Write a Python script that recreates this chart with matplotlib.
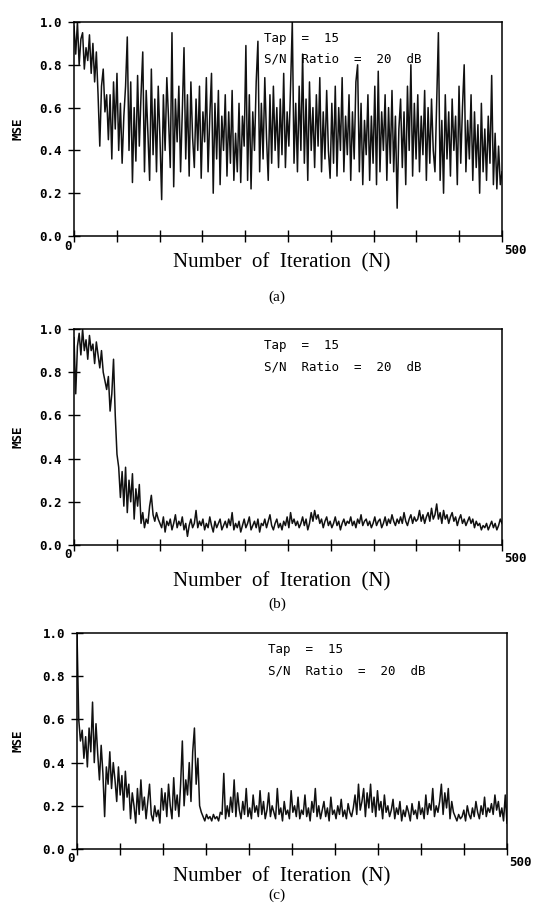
import numpy as np
import matplotlib
matplotlib.use("Agg")
from matplotlib import pyplot as plt

# MSE learning curves (500 iterations, every 2nd one)
mse_a = [0.98, 0.85, 1.00, 0.80, 0.92, 0.95, 0.78, 0.88, 0.82, 0.94,
         0.76, 0.90, 0.72, 0.86, 0.66, 0.42, 0.70, 0.78, 0.58, 0.66,
         0.45, 0.66, 0.36, 0.72, 0.50, 0.76, 0.40, 0.62, 0.34, 0.56,
         0.70, 0.93, 0.40, 0.72, 0.25, 0.60, 0.35, 0.75, 0.42, 0.66,
         0.86, 0.30, 0.68, 0.48, 0.26, 0.78, 0.38, 0.64, 0.30, 0.70,
         0.46, 0.17, 0.66, 0.40, 0.74, 0.55, 0.32, 0.95, 0.23, 0.64,
         0.44, 0.70, 0.30, 0.58, 0.88, 0.36, 0.66, 0.28, 0.72, 0.46,
         0.32, 0.64, 0.40, 0.70, 0.27, 0.58, 0.44, 0.74, 0.30, 0.56,
         0.76, 0.20, 0.62, 0.36, 0.68, 0.24, 0.56, 0.40, 0.66, 0.28,
         0.58, 0.34, 0.68, 0.26, 0.48, 0.30, 0.62, 0.25, 0.56, 0.42,
         0.89, 0.26, 0.66, 0.22, 0.58, 0.40, 0.72, 0.91, 0.30, 0.62,
         0.36, 0.74, 0.46, 0.26, 0.66, 0.34, 0.70, 0.40, 0.60, 0.32,
         0.64, 0.38, 0.76, 0.32, 0.58, 0.42, 0.70, 1.00, 0.34, 0.62,
         0.30, 0.70, 0.40, 0.85, 0.34, 0.64, 0.26, 0.72, 0.40, 0.60,
         0.32, 0.66, 0.42, 0.74, 0.30, 0.58, 0.36, 0.68, 0.40, 0.27,
         0.62, 0.34, 0.70, 0.28, 0.60, 0.40, 0.74, 0.30, 0.56, 0.38,
         0.66, 0.26, 0.58, 0.36, 0.72, 0.80, 0.30, 0.62, 0.24, 0.54,
         0.38, 0.66, 0.26, 0.56, 0.34, 0.70, 0.24, 0.77, 0.30, 0.58,
         0.40, 0.66, 0.26, 0.60, 0.34, 0.68, 0.30, 0.56, 0.13, 0.50,
         0.64, 0.32, 0.58, 0.24, 0.70, 0.40, 0.80, 0.28, 0.62, 0.36,
         0.66, 0.30, 0.56, 0.38, 0.68, 0.26, 0.60, 0.34, 0.64, 0.40,
         0.30, 0.62, 0.95, 0.26, 0.54, 0.20, 0.66, 0.36, 0.58, 0.28,
         0.64, 0.40, 0.56, 0.24, 0.70, 0.34, 0.60, 0.80, 0.30, 0.54,
         0.36, 0.66, 0.26, 0.58, 0.32, 0.52, 0.20, 0.62, 0.30, 0.50,
         0.26, 0.56, 0.34, 0.75, 0.24, 0.48, 0.22, 0.42, 0.24, 0.30]

mse_b = [0.96, 0.70, 0.92, 0.98, 0.88, 1.00, 0.90, 0.95, 0.86, 0.97,
         0.90, 0.93, 0.84, 0.94, 0.88, 0.82, 0.90, 0.80, 0.76, 0.72,
         0.78, 0.62, 0.70, 0.86, 0.60, 0.42, 0.36, 0.22, 0.34, 0.18,
         0.36, 0.15, 0.30, 0.20, 0.33, 0.12, 0.26, 0.18, 0.28, 0.10,
         0.15, 0.08, 0.12, 0.10, 0.18, 0.23, 0.14, 0.11, 0.15, 0.12,
         0.10, 0.08, 0.13, 0.06, 0.11, 0.09, 0.12, 0.07, 0.10, 0.14,
         0.08, 0.11, 0.09, 0.13, 0.07, 0.10, 0.04, 0.09, 0.12, 0.08,
         0.10, 0.16, 0.08, 0.11, 0.09, 0.12, 0.07, 0.10, 0.08, 0.13,
         0.09, 0.06, 0.11, 0.08, 0.10, 0.12, 0.07, 0.09, 0.11, 0.08,
         0.12, 0.09, 0.15, 0.07, 0.10, 0.08, 0.11, 0.06, 0.09, 0.12,
         0.08, 0.10, 0.13, 0.07, 0.09, 0.11, 0.08, 0.12, 0.06, 0.10,
         0.09, 0.12, 0.08, 0.11, 0.14, 0.09, 0.07, 0.10, 0.12, 0.08,
         0.10, 0.07, 0.11, 0.09, 0.13, 0.08, 0.15, 0.10, 0.12, 0.09,
         0.11, 0.08, 0.10, 0.13, 0.09, 0.12, 0.07, 0.10, 0.15, 0.11,
         0.16, 0.12, 0.14, 0.10, 0.12, 0.08, 0.11, 0.13, 0.09, 0.11,
         0.08, 0.10, 0.13, 0.09, 0.11, 0.07, 0.10, 0.12, 0.09, 0.11,
         0.10, 0.13, 0.09, 0.11, 0.08, 0.12, 0.10, 0.14, 0.09, 0.11,
         0.12, 0.09, 0.11, 0.08, 0.10, 0.13, 0.09, 0.11, 0.12, 0.08,
         0.10, 0.13, 0.09, 0.12, 0.10, 0.14, 0.11, 0.09, 0.12, 0.10,
         0.13, 0.10, 0.15, 0.11, 0.09, 0.12, 0.14, 0.10, 0.13, 0.11,
         0.12, 0.16, 0.11, 0.14, 0.10, 0.13, 0.15, 0.11, 0.17, 0.12,
         0.14, 0.19, 0.12, 0.15, 0.10, 0.16, 0.12, 0.14, 0.10, 0.13,
         0.15, 0.11, 0.13, 0.09, 0.12, 0.14, 0.10, 0.12, 0.09, 0.11,
         0.13, 0.10, 0.12, 0.08, 0.11, 0.09, 0.10, 0.07, 0.09, 0.08,
         0.10, 0.07, 0.09, 0.11, 0.08, 0.10, 0.07, 0.09, 0.12, 0.10]

mse_c = [1.00, 0.60, 0.50, 0.55, 0.42, 0.52, 0.38, 0.56, 0.45, 0.68,
         0.40, 0.58, 0.44, 0.32, 0.48, 0.35, 0.15, 0.38, 0.30, 0.45,
         0.28, 0.40, 0.32, 0.22, 0.38, 0.25, 0.34, 0.18, 0.36, 0.24,
         0.30, 0.14, 0.26, 0.20, 0.12, 0.28, 0.16, 0.32, 0.18, 0.24,
         0.14, 0.22, 0.30, 0.16, 0.13, 0.20, 0.15, 0.18, 0.12, 0.28,
         0.18, 0.26, 0.15, 0.30, 0.20, 0.14, 0.33, 0.18, 0.25, 0.15,
         0.30, 0.50, 0.20, 0.32, 0.25, 0.40, 0.22, 0.45, 0.56, 0.30,
         0.42, 0.20, 0.17, 0.15, 0.13, 0.16, 0.14, 0.15, 0.13, 0.16,
         0.14, 0.15, 0.13, 0.17, 0.16, 0.35, 0.14, 0.20, 0.15, 0.24,
         0.17, 0.32, 0.15, 0.26, 0.18, 0.14, 0.22, 0.16, 0.28, 0.15,
         0.19, 0.14, 0.25, 0.17, 0.20, 0.15, 0.27, 0.16, 0.22, 0.14,
         0.18, 0.26, 0.15, 0.20, 0.17, 0.14, 0.28, 0.16, 0.19, 0.13,
         0.22, 0.16, 0.18, 0.14, 0.27, 0.17, 0.20, 0.15, 0.24, 0.14,
         0.18, 0.16, 0.25, 0.15, 0.19, 0.13, 0.22, 0.17, 0.28, 0.15,
         0.20, 0.14, 0.18, 0.22, 0.15, 0.19, 0.13, 0.24, 0.16, 0.18,
         0.14, 0.20, 0.16, 0.23, 0.15, 0.18, 0.14, 0.21, 0.17, 0.15,
         0.19, 0.25, 0.16, 0.30, 0.18, 0.22, 0.28, 0.15, 0.26, 0.19,
         0.30, 0.17, 0.24, 0.15, 0.27, 0.18, 0.22, 0.14, 0.25, 0.17,
         0.20, 0.15, 0.18, 0.23, 0.14, 0.19, 0.16, 0.22, 0.13, 0.18,
         0.15, 0.20, 0.17, 0.13, 0.21, 0.16, 0.18, 0.14, 0.22, 0.16,
         0.19, 0.14, 0.25, 0.16, 0.21, 0.18, 0.28, 0.15, 0.20, 0.17,
         0.22, 0.30, 0.16, 0.26, 0.19, 0.28, 0.14, 0.22, 0.17, 0.15,
         0.13, 0.16, 0.14, 0.15, 0.18, 0.13, 0.20, 0.16, 0.14, 0.19,
         0.15, 0.22, 0.17, 0.14, 0.20, 0.16, 0.24, 0.15, 0.19, 0.17,
         0.21, 0.16, 0.25, 0.18, 0.22, 0.15, 0.19, 0.13, 0.25, 0.12]

panel_tags = ["(a)", "(b)", "(c)"]
y_ticks = [0.0, 0.2, 0.4, 0.6, 0.8, 1.0]
y_tick_labels = ["0.0", "0.2", "0.4", "0.6", "0.8", "1.0"]
x_ticks = list(range(0, 501, 50))
n_max = 500

W, H = 535, 913
fig = plt.figure(figsize=(W / 100, H / 100), dpi=100)

# axes boxes in pixels: left, top, right, bottom  + y of xlabel and caption
boxes = [(74, 22, 502, 236, 263, 297),
         (74, 329, 502, 545, 582, 604),
         (77, 633, 507, 849, 877, 895)]

mono = "DejaVu Sans Mono"
serif = "Liberation Serif"

for vals, tag, (l, t, r, b, ylab, ycap) in zip([mse_a, mse_b, mse_c], panel_tags, boxes):
    ax = fig.add_axes([l / W, 1 - b / H, (r - l) / W, (b - t) / H])
    n = np.linspace(0, n_max, len(vals))
    ax.plot(n, vals, color="#111111", lw=1.1)

    ax.set_xlim(0, n_max)
    ax.set_ylim(0, 1.0)
    ax.set_xticks(x_ticks)
    ax.set_xticklabels([""] * len(x_ticks))
    ax.set_yticks(y_ticks)
    ax.set_yticklabels(y_tick_labels, fontfamily=mono, fontweight="bold", fontsize=9)
    ax.tick_params(axis="x", direction="inout", length=9, width=1.0)
    ax.tick_params(axis="y", direction="inout", length=9, width=1.0, pad=4)
    for s in ax.spines.values():
        s.set_linewidth(1.1)

    ax.annotate("0", xy=(0, 0), xycoords="data", xytext=(-6, -10),
                textcoords="offset pixels", ha="center", va="center",
                fontfamily=mono, fontweight="bold", fontsize=9)
    ax.annotate("500", xy=(n_max, 0), xycoords="data", xytext=(13, -14),
                textcoords="offset pixels", ha="center", va="center",
                fontfamily=mono, fontweight="bold", fontsize=9)

    ax.text(222, 0.925, "Tap  =  15", fontfamily=mono, fontsize=9, va="center")
    ax.text(222, 0.825, "S/N  Ratio  =  20  dB", fontfamily=mono, fontsize=9, va="center")

    fig.text(18 / W, 1 - (t + b) / 2 / H, "MSE", rotation=90, ha="center", va="center",
             fontfamily=mono, fontweight="bold", fontsize=9)
    fig.text(282 / W, 1 - ylab / H, "Number  of  Iteration  (N)", ha="center", va="center",
             fontfamily=serif, fontsize=15)
    fig.text(277 / W, 1 - ycap / H, tag, ha="center", va="center",
             fontfamily=serif, fontsize=11)

fig.savefig("out.png", dpi=100)
